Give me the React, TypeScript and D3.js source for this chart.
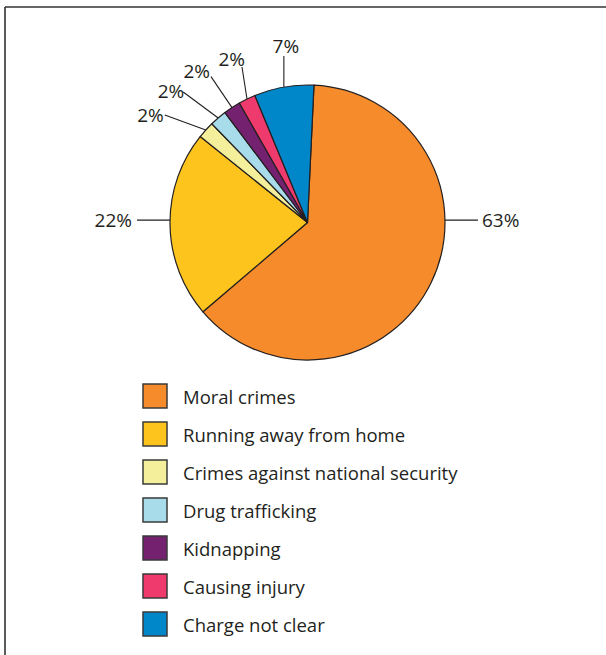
import React, { useEffect, useRef } from "react";
import * as d3 from "d3";

const categories = [
  "Moral crimes",
  "Running away from home",
  "Crimes against national security",
  "Drug trafficking",
  "Kidnapping",
  "Causing injury",
  "Charge not clear",
];
const values = [63, 22, 2, 2, 2, 2, 7];
const labels = ["63%", "22%", "2%", "2%", "2%", "2%", "7%"];
const colors = ["#F58B2A", "#FDC41E", "#F3EF9A", "#A8DCEA", "#74226F", "#EE3A6D", "#0087C9"];

// layout of leader lines: optional anchor angle (deg), line offset, text offset, anchor
const labelLayout = [
  { angle: 89, dx: 33, dy: 0, tx: 4, ty: 7, anchor: "start" },
  { angle: 271, dx: -33, dy: 0, tx: -5, ty: 7, anchor: "end" },
  { angle: null, dx: -41, dy: -15, tx: -1, ty: 7, anchor: "end" },
  { angle: null, dx: -35, dy: -26, tx: 1, ty: 6, anchor: "end" },
  { angle: null, dx: -21, dy: -31, tx: -1, ty: 1, anchor: "end" },
  { angle: null, dx: -5, dy: -32, tx: 3, ty: -1, anchor: "end" },
  { angle: null, dx: 0, dy: -31, tx: 2, ty: -3, anchor: "middle" },
];

const W = 606;
const H = 655;
const cx = 307.5;
const cy = 222.5;
const R = 137.5;
const startOffset = (2.7 * Math.PI) / 180;
const textColor = "#231F20";
const font = "'Open Sans', sans-serif";

export default function App() {
  const ref = useRef<SVGSVGElement>(null);

  useEffect(() => {
    const svg = d3.select(ref.current);
    svg.selectAll("*").remove();

    // frame (top and left borders)
    svg.append("line").attr("x1", 5).attr("x2", W).attr("y1", 7).attr("y2", 7)
      .attr("stroke", "#333").attr("stroke-width", 1.6);
    svg.append("line").attr("x1", 5).attr("x2", 5).attr("y1", 7).attr("y2", H)
      .attr("stroke", "#333").attr("stroke-width", 1.6);

    const data = categories.map((c, i) => ({ name: c, value: values[i], i }));
    const pie = d3.pie<any>().value((d) => d.value).sort(null)
      .startAngle(startOffset).endAngle(startOffset + 2 * Math.PI);
    const arcs = pie(data);
    const arc = d3.arc<any>().innerRadius(0).outerRadius(R);

    const g = svg.append("g").attr("transform", `translate(${cx},${cy})`);
    g.selectAll("path.slice").data(arcs).enter().append("path")
      .attr("class", "slice")
      .attr("d", arc as any)
      .attr("fill", (d) => colors[d.data.i])
      .attr("stroke", "#231F20")
      .attr("stroke-width", 1.2)
      .attr("stroke-linejoin", "round");

    // leader lines and labels
    arcs.forEach((a, i) => {
      const L = labelLayout[i];
      const ang = L.angle != null ? (L.angle * Math.PI) / 180 : (a.startAngle + a.endAngle) / 2;
      const ex = R * Math.sin(ang);
      const ey = -R * Math.cos(ang);
      const ox = ex + L.dx;
      const oy = ey + L.dy;
      g.append("line").attr("x1", ex).attr("y1", ey).attr("x2", ox).attr("y2", oy)
        .attr("stroke", "#231F20").attr("stroke-width", 1.1);
      g.append("text").attr("x", ox + L.tx).attr("y", oy + L.ty)
        .attr("text-anchor", L.anchor)
        .attr("font-family", font).attr("font-size", 19)
        .attr("fill", textColor)
        .text(labels[i]);
    });

    // legend
    const ly = d3.scaleBand<number>().domain(d3.range(categories.length)).range([384, 384 + 38 * 7]);
    const lg = svg.append("g");
    categories.forEach((c, i) => {
      const y = ly(i)!;
      lg.append("rect").attr("x", 143).attr("y", y).attr("width", 24).attr("height", 24)
        .attr("fill", colors[i]).attr("stroke", "#3a3a3a").attr("stroke-width", 1.5);
      lg.append("text").attr("x", 183).attr("y", y + 20)
        .attr("font-family", font).attr("font-size", 18.5).attr("fill", textColor)
        .text(c);
    });
  }, []);

  return (
    <svg ref={ref} width={W} height={H}
      style={{ position: "absolute", left: 0, top: 0, background: "#fff" }} />
  );
}
